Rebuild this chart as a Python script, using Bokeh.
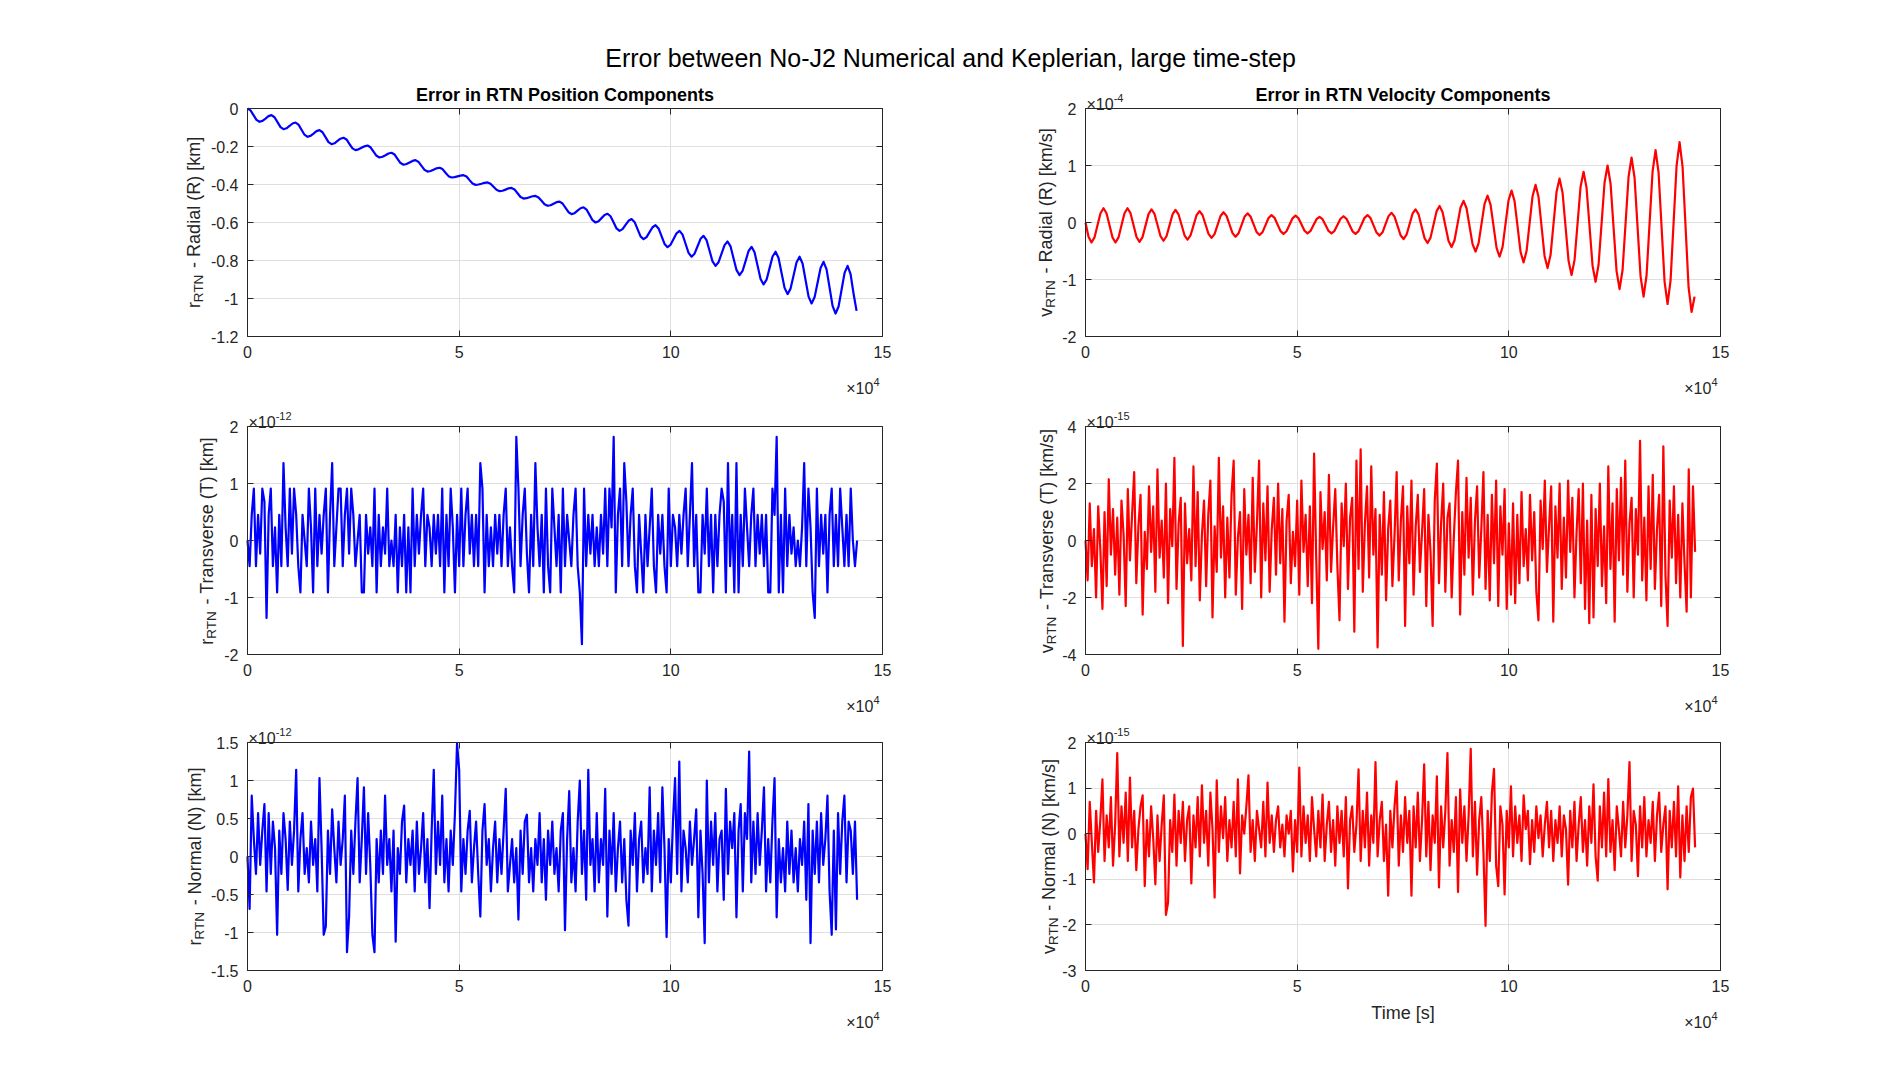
import math
import numpy as np
from bokeh.plotting import figure
from bokeh.layouts import column, row
from bokeh.models import Range1d, FixedTicker, CustomJSTickFormatter, LinearAxis, Label, Grid
from bokeh.core.properties import value
from bokeh.embed import file_html
from bokeh.resources import INLINE

SUPTITLE = "Error between No-J2 Numerical and Keplerian, large time-step"
TITLE_POS = "Error in RTN Position Components"
TITLE_VEL = "Error in RTN Velocity Components"
X_TICKS = [0, 50000, 100000, 150000]

# radial error, one sample every 708.75 s
r_R = [0, -0.010, -0.035, -0.060, -0.070, -0.065, -0.053, -0.040, -0.035, -0.046,
       -0.072, -0.098, -0.109, -0.104, -0.092, -0.079, -0.074, -0.085, -0.112, -0.138,
       -0.149, -0.144, -0.132, -0.119, -0.114, -0.125, -0.151, -0.177, -0.188, -0.183,
       -0.171, -0.159, -0.154, -0.163, -0.187, -0.210, -0.219, -0.215, -0.207, -0.199,
       -0.195, -0.204, -0.227, -0.249, -0.258, -0.254, -0.246, -0.237, -0.233, -0.242,
       -0.265, -0.287, -0.296, -0.292, -0.284, -0.276, -0.272, -0.281, -0.302, -0.323,
       -0.332, -0.329, -0.322, -0.315, -0.312, -0.319, -0.338, -0.356, -0.363, -0.361,
       -0.357, -0.353, -0.351, -0.358, -0.377, -0.395, -0.402, -0.400, -0.396, -0.391,
       -0.389, -0.396, -0.412, -0.428, -0.435, -0.433, -0.427, -0.420, -0.418, -0.426,
       -0.446, -0.466, -0.474, -0.472, -0.467, -0.462, -0.460, -0.468, -0.486, -0.504,
       -0.512, -0.509, -0.501, -0.493, -0.490, -0.500, -0.523, -0.546, -0.556, -0.551,
       -0.538, -0.525, -0.520, -0.532, -0.560, -0.588, -0.600, -0.593, -0.577, -0.561,
       -0.554, -0.567, -0.599, -0.631, -0.644, -0.635, -0.613, -0.591, -0.582, -0.597,
       -0.635, -0.673, -0.688, -0.677, -0.651, -0.625, -0.614, -0.631, -0.672, -0.713,
       -0.730, -0.717, -0.687, -0.657, -0.644, -0.664, -0.712, -0.760, -0.780, -0.764,
       -0.725, -0.686, -0.670, -0.693, -0.749, -0.805, -0.828, -0.809, -0.764, -0.719,
       -0.700, -0.726, -0.789, -0.851, -0.877, -0.855, -0.803, -0.750, -0.728, -0.757,
       -0.827, -0.897, -0.926, -0.901, -0.840, -0.779, -0.754, -0.787, -0.866, -0.944,
       -0.977, -0.948, -0.879, -0.809, -0.780, -0.816, -0.903, -0.990, -1.026, -0.994,
       -0.917, -0.839, -0.807, -0.847, -0.943, -1.039, -1.079, -1.042, -0.954, -0.865,
       -0.828, -0.872, -0.975, -1.065]

# radial velocity error (x 1e-4 km/s), same sampling
v_R = [0, -0.250, -0.350, -0.262, -0.050, 0.162, 0.250, 0.162, -0.050, -0.262,
       -0.350, -0.262, -0.050, 0.162, 0.250, 0.164, -0.045, -0.254, -0.340, -0.257,
       -0.055, 0.147, 0.230, 0.150, -0.045, -0.240, -0.320, -0.241, -0.050, 0.141,
       0.220, 0.144, -0.040, -0.224, -0.300, -0.227, -0.050, 0.127, 0.200, 0.131,
       -0.035, -0.201, -0.270, -0.204, -0.045, 0.114, 0.180, 0.117, -0.035, -0.187,
       -0.250, -0.190, -0.045, 0.100, 0.160, 0.105, -0.030, -0.165, -0.220, -0.169,
       -0.045, 0.079, 0.130, 0.082, -0.035, -0.152, -0.200, -0.153, -0.040, 0.073,
       0.120, 0.075, -0.035, -0.145, -0.190, -0.148, -0.045, 0.058, 0.100, 0.058,
       -0.045, -0.148, -0.190, -0.146, -0.040, 0.066, 0.110, 0.065, -0.045, -0.155,
       -0.200, -0.152, -0.035, 0.082, 0.130, 0.077, -0.050, -0.177, -0.230, -0.172,
       -0.030, 0.112, 0.170, 0.103, -0.060, -0.223, -0.290, -0.214, -0.030, 0.154,
       0.230, 0.144, -0.065, -0.274, -0.360, -0.265, -0.035, 0.195, 0.290, 0.185,
       -0.070, -0.325, -0.430, -0.312, -0.025, 0.262, 0.380, 0.250, -0.065, -0.380,
       -0.510, -0.367, -0.020, 0.327, 0.470, 0.314, -0.065, -0.444, -0.600, -0.431,
       -0.020, 0.391, 0.560, 0.376, -0.070, -0.516, -0.700, -0.501, -0.020, 0.461,
       0.660, 0.447, -0.070, -0.587, -0.800, -0.571, -0.015, 0.541, 0.770, 0.523,
       -0.075, -0.673, -0.920, -0.656, -0.015, 0.626, 0.890, 0.608, -0.075, -0.758,
       -1.040, -0.742, -0.020, 0.702, 1.000, 0.683, -0.085, -0.853, -1.170, -0.833,
       -0.015, 0.803, 1.140, 0.784, -0.080, -0.944, -1.300, -0.925, -0.015, 0.895,
       1.270, 0.876, -0.080, -1.036, -1.430, -1.015, -0.010, 0.995, 1.410, 0.975,
       -0.080, -1.135, -1.570, -1.300]

# transverse position error (x 1e-12 km), one sample every 500 s
r_T = [0, -0.45, 0.45, 0.91, -0.45, 0.45, -0.23, 0.91, 0.68, -1.36, 0.45, 0.91, -0.45, 0.23, -0.91, 0.45, -0.45, 1.36, 0.23, -0.45,
       0.91, -0.23, 0.91, 0.45, -0.45, -0.91, 0.45, 0, -0.45, 0.91, 0.23, -0.91, 0.91, -0.45, 0.45, -0.23, 0.45, 0.91, -0.91, 0.45,
       1.36, -0.45, 0.23, 0.91, 0.91, -0.45, 0.45, 0.91, -0.23, 0.91, 0.45, -0.45, 0, 0.45, -0.91, -0.91, 0.45, -0.23, 0.23, -0.45,
       0.91, -0.91, 0.45, -0.45, 0.23, -0.23, 0.91, -0.45, 0, -0.45, 0.45, -0.91, 0.23, -0.45, 0.45, -0.91, 0.23, -0.91, 0.91, -0.45,
       0.45, -0.23, 0.45, 0.91, -0.45, 0.45, 0.23, -0.45, 0.45, -0.23, 0.45, -0.45, 0.91, -0.91, 0.45, -0.45, 0.91, 0.23, -0.91, 0.45,
       -0.45, 0.91, -0.45, 0.45, 0.91, -0.23, 0.45, -0.45, 0.45, -0.45, 1.36, 0.91, -0.91, 0.45, -0.45, 0.23, -0.45, 0.45, -0.23, 0.45,
       -0.45, 0.45, 0.91, -0.45, 0.23, -0.45, -0.91, 1.82, 0.91, -0.45, 0.45, 0.91, -0.23, -0.91, 0.45, -0.45, 1.36, 0.23, -0.45, 0.45,
       -0.91, 0.91, -0.45, -0.91, 0.91, 0.23, -0.45, 0.45, -0.91, 0.91, -0.45, 0.45, 0, -0.45, 0.45, 0.91, -0.45, -0.91, -1.82, 0.91,
       -0.45, 0.45, -0.23, 0.45, -0.45, 0.23, -0.45, 0.45, -0.23, 0.91, -0.45, 0.91, 0.23, 1.82, -0.91, 0.45, 0.91, -0.45, 1.36, 0.68,
       -0.45, 0.45, 0.91, -0.45, -0.91, 0.45, -0.23, -0.91, 0.45, -0.45, 0.23, 0.91, -0.45, -0.91, 0.45, -0.23, 0.45, -0.45, -0.91, 0.91,
       -0.45, 0.45, 0.23, -0.45, 0.45, -0.23, 0.45, 0.91, -0.45, 0.45, 1.36, -0.45, 0.45, -0.91, -0.91, 0.45, -0.23, 0.91, -0.45, 0.45,
       -0.91, 0.45, -0.45, 0.45, 0.91, 0.68, -0.91, 1.36, -0.45, 0.45, -0.91, 1.36, -0.91, 0.45, -0.45, 0.91, 0.23, -0.45, 0.45, 0.91,
       -0.45, 0.45, -0.23, 0.45, -0.45, 0.45, -0.91, -0.91, 0.91, 0.45, 1.82, -0.91, 0.45, -0.91, 0.91, -0.45, 0.45, -0.23, 0.23, -0.45,
       0, -0.45, 0.23, 1.36, -0.45, 0.91, 0.23, -0.91, -1.36, 0.91, -0.45, 0.45, -0.23, 0.45, -0.91, 0.45, 0.91, -0.45, 0.45, -0.45,
       0.91, 0.23, -0.45, 0.45, -0.45, 0.91, 0, -0.45, 0]

# transverse velocity error (x 1e-15 km/s)
v_T = [0, -1.4, 1.3, -0.9, 0.4, -2.0, 1.2, -0.3, -2.4, 1.0, -1.6, 2.15, -0.5, 1.1, -1.2, 0.8, -1.9, 1.4, 0.2, -2.3,
       1.8, -0.7, 0.9, 2.4, -1.5, 0.5, 1.6, -2.6, 0.3, -1.0, 1.9, -0.4, 1.2, -1.8, 2.5, -0.6, 0.7, -1.3, 2.0, -2.2,
       1.1, -0.2, 2.9, -1.7, 0.6, 1.5, -3.7, 1.3, -0.8, 0.4, -1.4, 2.6, -0.9, 1.7, -2.1, 0.2, 1.4, -1.6, 0.9, 2.1,
       -2.7, 0.5, -1.1, 2.9, -0.6, 1.2, -2.0, 0.8, -1.3, 1.6, 2.8, -1.9, 0.1, 1.0, -2.4, 1.8, -0.5, 0.9, -1.5, 2.2,
       -1.1, 0.6, 2.8, -2.0, 1.3, -0.7, 1.9, -1.8, 0.4, 1.5, -1.2, 2.0, -0.8, 1.1, -2.85, 0.7, 1.6, -1.5, 0.3, -0.9,
       1.4, -1.9, 2.1, -0.4, 0.9, -1.6, 1.2, -2.2, 3.05, -0.6, -3.8, 1.7, -0.3, 1.0, -1.4, 2.3, -1.1, 0.5, 1.8, -0.9,
       -2.8, 1.3, -0.2, 2.0, -1.7, 0.8, 1.5, -3.2, 2.8, -1.0, 3.2, -1.8, 0.6, 1.9, -1.3, 2.6, -0.5, 1.1, -3.75, 0.9,
       -1.2, 1.7, -2.1, 0.4, 1.4, -1.6, 0.2, 2.4, -1.4, 0.7, 1.9, -3.0, 1.2, -0.8, 2.1, -1.9, 0.5, 1.6, -1.1, 0.3,
       1.8, -2.3, 0.9, -0.4, -3.0, 1.4, 2.7, -1.5, 0.6, 2.0, -1.8, 0.8, 1.3, -2.0, 0.1, 1.7, 2.8, -2.6, 1.0, -1.2,
       2.2, -0.6, 1.5, -1.9, 0.7, 1.9, -1.3, 0.4, 2.4, -1.7, 0.9, -2.1, 1.6, -0.8, 2.1, -2.3, 1.2, -0.5, 1.8, -2.4,
       0.6, -1.9, 1.3, -2.2, 0.9, -1.5, 1.7, -0.9, 0.4, -1.4, 1.6, -0.7, 1.0, -1.8, -2.8, 1.4, -0.3, 2.1, -1.1, 0.5,
       1.9, -2.85, 1.2, -0.6, 2.0, -1.7, 0.8, -1.3, 2.1, -0.4, 1.5, -2.0, 0.3, 1.8, -1.5, 2.0, -2.4, 0.7, -2.9, 1.6,
       -2.7, 1.1, -0.9, 2.0, -1.6, 0.5, -2.2, 2.6, -1.0, 1.3, -2.85, 1.8, -0.7, 2.2, -1.2, 2.8, -1.8, 0.6, 1.5, -2.0,
       1.1, -0.5, 3.5, -1.4, 0.8, -2.1, 1.9, -1.0, 2.3, -1.7, 0.4, 1.6, -2.3, 3.3, -1.2, -3.0, 1.4, -0.6, 1.9, -1.5,
       0.9, -2.0, 1.3, -0.8, -2.5, 2.5, -2.0, 1.9, -0.4]

# normal position error (x 1e-12 km)
r_N = [0, -0.69, 0.8, 0.23, -0.23, 0.57, -0.11, 0.34, 0.69, -0.46, 0.57, -0.23, 0.46, 0.11, -1.03, 0.34, -0.23, 0.57, 0.23, -0.44,
       0.46, -0.11, 0.34, 1.14, -0.46, 0.23, 0.57, -0.23, 0.11, -0.34, 0.46, -0.11, 0.23, -0.46, 1.03, 0.11, -1.03, -0.92, 0.34, -0.23,
       0.62, 0.11, -0.34, 0.46, -0.11, 0.23, 0.8, -1.26, -0.79, 0.34, -0.23, 0.46, 1.03, -0.34, 0.23, 0.91, -0.23, 0.57, -0.11, -1.03,
       -1.26, 0.23, -0.34, 0.34, -0.23, 0.8, -0.11, 0.23, -0.46, 0.34, -1.12, 0.11, -0.23, 0.46, 0.67, -0.34, 0.23, -0.11, 0.34, -0.46,
       0.46, -0.23, 0.11, 0.57, -0.34, 0.23, -0.68, 0.34, 1.14, -0.23, 0.46, -0.11, 0.8, -0.34, 0.23, -0.46, 0.34, -0.11, 0.57, 1.49,
       1.14, -0.46, 0.23, -0.23, 0.34, 0.6, -0.34, 0.11, 0.46, -0.23, -0.79, 0.34, 0.69, -0.11, 0.23, -0.46, 0.11, 0.46, -0.34, 0.23,
       -0.23, 0.34, 0.89, -0.46, -0.11, 0.23, -0.34, 0.11, -0.83, 0.34, -0.23, 0.46, 0.55, -0.34, 0.11, -0.46, 0.23, -0.11, 0.57, -0.34,
       0.23, -0.57, 0.34, -0.11, 0.46, -0.23, 0.11, -0.46, 0.34, 0.57, -0.97, 0.23, 0.86, -0.34, 0.11, -0.46, 0.46, 1.0, -0.23, 0.34,
       -0.57, 1.14, -0.11, 0.23, -0.46, 0.57, -0.34, 0.23, -0.11, 0.89, -0.79, 0.34, -0.23, 0.57, -0.46, 0.11, 0.46, -0.34, 0.23, -0.57,
       -0.91, 0.34, -0.11, 0.57, -0.46, 0.23, 0.46, -0.34, 0.11, -0.23, 0.91, -0.46, 0.34, -0.11, 0.57, -0.34, 0.91, 0.11, -1.06, 0.23,
       -0.34, 0.46, 1.03, -0.23, 1.25, -0.46, 0.34, 0.11, -0.34, 0.46, -0.11, 0.23, 0.62, -0.8, 0.34, -0.23, -1.14, 1.0, -0.34, 0.46,
       -0.11, 0.57, -0.46, 0.23, 0.34, -0.57, 0.89, -0.23, 0.46, 0.11, 0.57, -0.8, 0.34, 0.69, -0.46, 0.57, 0.23, 1.38, -0.34, 0.46,
       -0.23, 0.57, -0.11, 0.34, 0.91, -0.46, 0.23, -0.34, 0.46, 1.03, -0.8, 0.23, -0.34, 0.11, -0.46, 0.46, -0.23, 0.34, -0.34, 0.11,
       -0.46, 0.23, -0.11, 0.46, -0.57, 0.69, -1.14, 0.34, -0.23, 0.46, -0.34, 0.57, -0.11, 0.23, 0.8, -0.46, -1.03, 0.34, -0.96, 0.57,
       -0.23, 0.46, 0.8, -0.34, 0.46, 0.34, -0.23, 0.46, -0.57]

# normal velocity error (x 1e-15 km/s)
v_N = [0, -0.78, 0.7, -0.2, -1.07, 0.5, -0.4, 0.3, 1.19, -0.6, 0.4, -0.3, 0.8, -0.7, 0.2, 1.77, -0.5, 0.6, -0.2, 0.9,
       -0.6, 1.23, -0.3, 0.5, -0.8, 0.1, 0.6, 0.84, -1.15, 0.3, -0.5, 0.6, -0.1, -1.11, 0.4, -0.6, 0.2, 0.84, -1.78, -1.51,
       0.3, -0.4, 0.86, -0.7, 0.5, -0.2, 0.7, -0.6, 0.3, 0.6, -1.09, 0.4, -0.3, 0.8, -0.5, 1.06, -0.2, 0.5, -0.7, 0.9,
       0.1, -1.4, 1.17, -0.4, 0.6, -0.1, 0.8, -0.6, 0.3, -0.3, 0.7, -0.5, 1.19, -0.87, 0.4, 0.0, 0.6, 1.28, -0.4, 0.3,
       -0.6, 0.5, 0.1, -0.3, 0.7, -0.5, 1.12, -0.2, 0.4, -0.4, 0.3, 0.6, -0.3, 0.2, -0.5, 0.4, 0.0, 0.5, -0.83, 0.3,
       -0.4, 1.45, -0.5, 0.6, -0.2, 0.4, -0.6, 0.8, 0.1, -0.5, 0.5, -0.3, 0.86, -0.6, 0.2, 0.7, -0.4, 0.3, -0.7, 0.6,
       -0.2, 0.5, -0.5, 0.8, -1.2, 0.3, 0.6, -0.4, 0.2, 1.41, -0.6, 0.5, -0.3, 0.9, -0.7, 0.4, -0.2, 1.57, -0.5, 0.3,
       0.7, -0.6, 0.2, -1.36, 0.5, -0.3, 0.6, 1.15, -0.7, 0.4, -0.4, 0.8, -0.2, 0.5, -1.36, 0.6, -0.3, 0.9, -0.6, 0.3,
       1.52, -0.5, 0.7, -0.8, 0.4, -0.2, 1.26, -1.18, 0.6, -0.3, 0.5, 1.77, -0.7, 0.3, -0.4, 0.8, -1.28, 0.97, -0.2, 0.6,
       -0.6, 0.4, 1.86, -0.5, 0.7, -0.9, 0.3, 0.8, -0.4, -2.02, 0.5, -0.6, 0.9, 1.42, -0.7, -1.15, 0.6, 0.2, -1.33, 0.5,
       -0.3, 1.04, -0.5, 0.6, -0.2, 0.4, -0.6, 0.84, 0.1, 0.5, -0.67, 0.3, -0.4, 0.6, -0.1, 0.4, -0.5, 0.2, 0.7, -0.3,
       0.5, -0.6, 0.3, -0.2, 0.6, -0.5, 0.4, 0.1, -1.12, 0.5, -0.3, 0.7, -0.6, 0.2, 0.8, -0.4, 0.3, -0.7, 0.6, -0.2,
       1.08, -0.5, -1.03, 0.6, -0.3, 0.9, -0.5, 1.2, -0.4, 0.3, -0.8, 0.6, 0.1, -0.5, 0.7, -0.3, 0.4, 1.57, -0.6, 0.5,
       0.2, -0.93, 0.6, -0.3, 0.8, -0.5, 0.3, -0.2, 0.7, -0.6, 0.4, 0.9, -0.4, 0.2, 0.6, -1.22, 0.5, -0.3, 0.7, -0.5,
       1.04, -0.96, 0.4, -0.6, 0.6, -0.4, 0.8, 0.99, -0.3]

FONT = "Liberation Sans"
AX = "#262626"
GRID = "#dfdfdf"
BLUE = "#0000ff"
RED = "#ff0000"

BOX_W, BOX_H = 635, 228          # size of each axes box in pixels
S = 150000.0 / BOX_W             # seconds per pixel

# arial advance widths, used to place the pieces of the y labels
AW = {' ': 278, '-': 333, 'R': 722, 'a': 556, 'd': 556, 'i': 222, 'l': 222, '(': 333, ')': 333,
      '[': 278, ']': 278, 'k': 500, 'm': 833, 'T': 611, 'r': 333, 'n': 556, 's': 500, 'v': 500,
      'e': 556, 'N': 722, 'o': 556, '/': 278, '×': 584}


def text_w(s, size):
    return sum(AW.get(c, 556) for c in s) * size / 1000.0


def lab(p, x, y, text, size, **kw):
    opts = dict(text_font=FONT, text_font_size=f"{size}px", text_color=AX,
                text_align="left", text_baseline="alphabetic")
    opts.update(kw)
    p.add_layout(Label(x=x, y=y, text=text, **opts))


def panel(t, y, color, yr, yticks, letter, rest, dx, W, H, bl, bt,
          sup=None, title=None, xlabel=None):
    # the frame fills the whole figure; the axes box sits at (bl, bt) inside it
    y0, y1 = yr
    sy = (y1 - y0) / BOX_H
    p = figure(width=W, height=H,
               x_range=Range1d(-bl * S, 150000 + (W - bl - BOX_W) * S),
               y_range=Range1d(y0 - (H - bt - BOX_H) * sy, y1 + bt * sy),
               x_axis_type=None, y_axis_type=None, toolbar_location=None,
               output_backend="svg", min_border=0, outline_line_color=None)

    xg = Grid(dimension=0, ticker=FixedTicker(ticks=X_TICKS[1:-1]), grid_line_color=GRID)
    yg = Grid(dimension=1, ticker=FixedTicker(ticks=yticks[1:-1]), grid_line_color=GRID)
    if "cross_bounds" in Grid.properties():
        xg.cross_bounds = (y0, y1)
        yg.cross_bounds = (0, 150000)
        p.add_layout(xg)
        p.add_layout(yg)
    else:
        gx = X_TICKS[1:-1]
        gy = yticks[1:-1]
        p.segment(x0=gx, y0=[y0] * len(gx), x1=gx, y1=[y1] * len(gx), line_color=GRID)
        p.segment(x0=[0] * len(gy), y0=gy, x1=[150000] * len(gy), y1=gy, line_color=GRID)

    p.line(t, y, line_color=color, line_width=2.2, line_join="round")

    ly = LinearAxis(ticker=FixedTicker(ticks=yticks), fixed_location=0, bounds=(y0, y1),
                    formatter=CustomJSTickFormatter(code="return String(Number(tick.toFixed(4)));"))
    bx = LinearAxis(ticker=FixedTicker(ticks=X_TICKS), fixed_location=y0, bounds=(0, 150000),
                    formatter=CustomJSTickFormatter(code="return String(tick / 10000);"))
    ry = LinearAxis(ticker=FixedTicker(ticks=yticks), fixed_location=150000, bounds=(y0, y1))
    tx = LinearAxis(ticker=FixedTicker(ticks=X_TICKS), fixed_location=y1, bounds=(0, 150000))
    for ax in (ly, bx, ry, tx):
        ax.axis_line_color = AX
        ax.major_tick_line_color = AX
        ax.major_tick_in = 6
        ax.major_tick_out = 0
        ax.minor_tick_line_color = None
        ax.major_label_text_color = AX
        ax.major_label_text_font = FONT
        ax.major_label_text_font_size = "16px"
        ax.major_label_standoff = 9
    for ax in (ry, tx):
        ax.major_label_text_alpha = 0
    p.add_layout(ly, "left")
    p.add_layout(bx, "below")
    p.add_layout(ry, "right")
    p.add_layout(tx, "above")

    # y label: letter, subscript RTN, then the rest (svg drops leading blanks,
    # so the space before the dash is left as a gap)
    f, fs = 18, 13.5
    gap = text_w(" ", f) + 1.5
    total = text_w(letter, f) + text_w("RTN", fs) + gap + text_w(rest, f)
    xb = -dx + 0.36 * f
    pos = -total / 2
    ymid = (y0 + y1) / 2
    for txt, size, shift, g in ((letter, f, 0, 0), ("RTN", fs, 4.5, gap), (rest, f, 0, 0)):
        lab(p, 0, ymid, txt, size, x_offset=xb + shift, y_offset=pos, angle=math.pi / 2)
        pos += text_w(txt, size) + g

    # x10^4 under the x axis
    lab(p, 150000, y0, "×10", 16, text_align="right", x_offset=-3 - text_w("4", 11), y_offset=-52)
    lab(p, 150000, y0, "4", 11, text_align="right", x_offset=-3, y_offset=-45)

    if sup is not None:
        lab(p, 0, y1, "×10", 16, x_offset=1, y_offset=4)
        lab(p, 0, y1, sup, 11, x_offset=1 + text_w("×10", 16), y_offset=11)
    if title is not None:
        lab(p, 75000, y1, title, 18, text_align="center", text_baseline="middle",
            text_font_style="bold", text_color="black", y_offset=14)
    if xlabel is not None:
        lab(p, 75000, y0, xlabel, 18, text_align="center", text_baseline="middle", y_offset=-42)
    return p


t_R = np.arange(len(r_R)) * 708.75
LW, RW = 895, 858      # widths of the left and right column figures
LB, RB = 247, 190      # left edge of the axes box in each

p1 = panel(t_R, r_R, BLUE, (-1.2, 0), [-1.2, -1.0, -0.8, -0.6, -0.4, -0.2, 0],
           "r", "- Radial (R) [km]", 60, LW, 325, LB, 33, title=TITLE_POS)
p2 = panel(t_R, v_R, RED, (-2, 2), [-2, -1, 0, 1, 2],
           "v", "- Radial (R) [km/s]", 46, RW, 325, RB, 33, sup="-4", title=TITLE_VEL)
p3 = panel(np.arange(len(r_T)) * 500.0, r_T, BLUE, (-2, 2), [-2, -1, 0, 1, 2],
           "r", "- Transverse (T) [km]", 47, LW, 318, LB, 26, sup="-12")
p4 = panel(np.arange(len(v_T)) * 500.0, v_T, RED, (-4, 4), [-4, -2, 0, 2, 4],
           "v", "- Transverse (T) [km/s]", 45, RW, 318, RB, 26, sup="-15")
p5 = panel(np.arange(len(r_N)) * 500.0, r_N, BLUE, (-1.5, 1.5), [-1.5, -1, -0.5, 0, 0.5, 1, 1.5],
           "r", "- Normal (N) [km]", 59, LW, 312, LB, 24, sup="-12")
p6 = panel(np.arange(len(v_N)) * 500.0, v_N, RED, (-3, 2), [-3, -2, -1, 0, 1, 2],
           "v", "- Normal (N) [km/s]", 43, RW, 312, RB, 24, sup="-15", xlabel="Time [s]")

# overall title
head = figure(width=1880, height=75, x_range=Range1d(0, 1880), y_range=Range1d(0, 75),
              x_axis_type=None, y_axis_type=None, toolbar_location=None,
              output_backend="svg", min_border=0, outline_line_color=None)
head.text(x=[950], y=[75 - 57.5], text=[SUPTITLE], text_align="center", text_baseline="middle",
          text_font=value(FONT), text_font_size="25px", text_color="black")

layout = column(head, row(p1, p2), row(p3, p4), row(p5, p6))

open("out.html", "w").write(file_html(layout, INLINE))
